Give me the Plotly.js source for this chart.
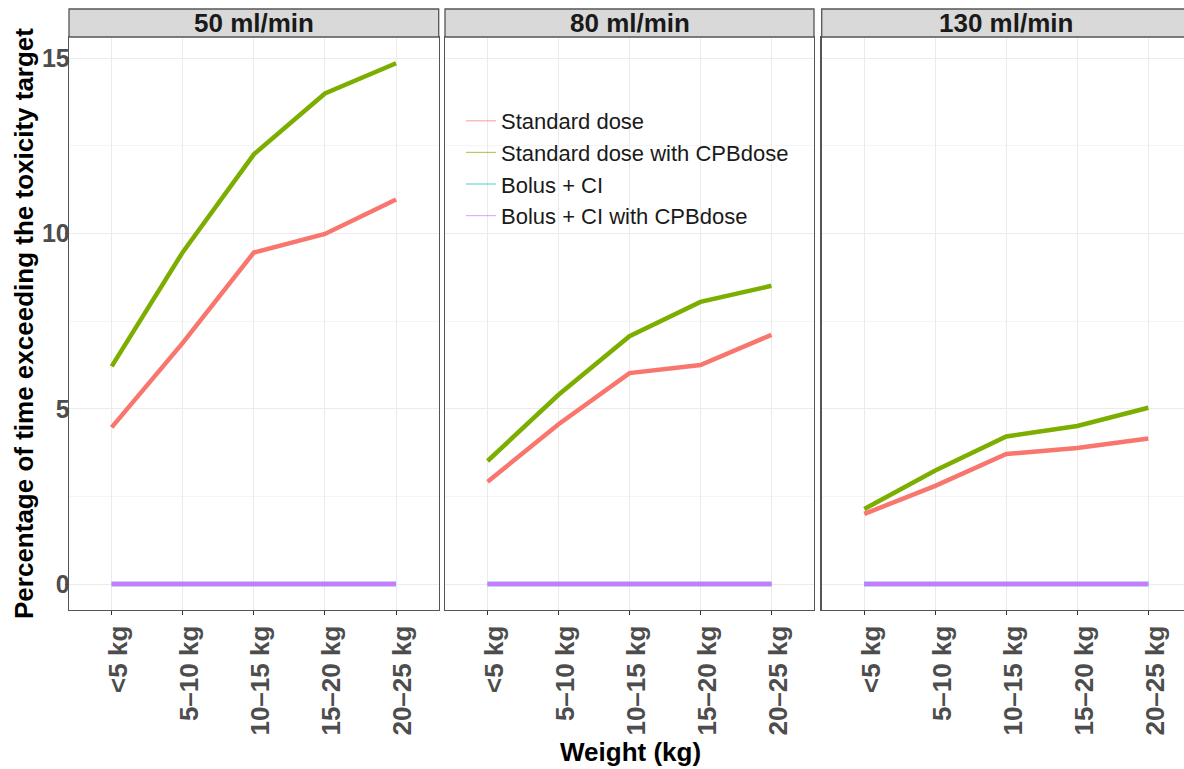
<!DOCTYPE html>
<html>
<head>
<meta charset="utf-8">
<script src="https://cdn.plot.ly/plotly-3.0.1.min.js"></script>
<style>html,body{margin:0;padding:0;background:#fff;}</style>
</head>
<body>
<div id="chart" style="width:1184px;height:769px;"></div>
<script>
const weights = ["<5 kg", "5–10 kg", "10–15 kg", "15–20 kg", "20–25 kg"];
const panelTitles = ["50 ml/min", "80 ml/min", "130 ml/min"];
const seriesNames = ["Standard dose", "Standard dose with CPBdose", "Bolus + CI", "Bolus + CI with CPBdose"];
const seriesColors = ["#F8766D", "#7CAE00", "#00BFC4", "#C77CFF"];

const std50 = [4.47, 6.88, 9.46, 9.99, 10.97];
const cpb50 = [6.21, 9.47, 12.26, 14.00, 14.86];
const bolus50 = [0, 0, 0, 0, 0];
const bolusCpb50 = [0, 0, 0, 0, 0];

const std80 = [2.92, 4.56, 6.02, 6.25, 7.11];
const cpb80 = [3.51, 5.40, 7.07, 8.05, 8.51];
const bolus80 = [0, 0, 0, 0, 0];
const bolusCpb80 = [0, 0, 0, 0, 0];

const std130 = [2.00, 2.80, 3.71, 3.88, 4.15];
const cpb130 = [2.14, 3.24, 4.21, 4.51, 5.03];
const bolus130 = [0, 0, 0, 0, 0];
const bolusCpb130 = [0, 0, 0, 0, 0];

const panelData = [
  [std50, cpb50, bolus50, bolusCpb50],
  [std80, cpb80, bolus80, bolusCpb80],
  [std130, cpb130, bolus130, bolusCpb130]
];

const W = 1184, H = 769;
const mL = 69, mR = 0, mT = 9, mB = 159;
const plotW = W - mL - mR, plotH = H - mT - mB;
const px2x = p => (p - mL) / plotW;
const px2y = p => (H - mB - p) / plotH;

const domains = [[px2x(69), px2x(438.7)], [px2x(445), px2x(814)], [px2x(821.7), 1]];
const stripBottom = px2y(37);
const xRanges = [[-0.6, 4.6], [-0.6, 4.6], [-0.6, 4.503]];
const stripCenters = [px2x(253.7), px2x(629.5), px2x(1006)];

const traces = [];
panelData.forEach((series, p) => {
  const xa = p === 0 ? 'x' : 'x' + (p + 1);
  const ya = p === 0 ? 'y' : 'y' + (p + 1);
  series.forEach((vals, s) => {
    traces.push({
      type: 'scatter', mode: 'lines', x: weights, y: vals,
      xaxis: xa, yaxis: ya, name: seriesNames[s], showlegend: false,
      line: {color: seriesColors[s], width: 4.5}, hoverinfo: 'x+y'
    });
  });
});
// legend keys (thin lines as in the reference legend)
seriesNames.forEach((n, s) => {
  traces.push({
    type: 'scatter', mode: 'lines', x: [null], y: [null], xaxis: 'x2', yaxis: 'y2',
    name: n, showlegend: true, line: {color: seriesColors[s], width: 1.2}, opacity: 0.6
  });
});

const font = "Liberation Sans, Arial, sans-serif";
const borderColor = '#555555';
const layout = {
  width: W, height: H,
  margin: {l: mL, r: mR, t: mT, b: mB, pad: 0},
  paper_bgcolor: '#ffffff', plot_bgcolor: '#ffffff',
  font: {family: font, color: '#4D4D4D'},
  showlegend: true,
  legend: {
    x: px2x(461), y: px2y(100), xanchor: 'left', yanchor: 'top',
    bgcolor: 'rgba(0,0,0,0)', font: {family: font, size: 22, color: '#1a1a1a'},
    tracegroupgap: 0
  },
  shapes: [], annotations: []
};

for (let p = 0; p < 3; p++) {
  const sfx = p === 0 ? '' : String(p + 1);
  layout['xaxis' + sfx] = {
    domain: domains[p], anchor: 'y' + sfx, type: 'category',
    categoryorder: 'array', categoryarray: weights,
    range: xRanges[p], showgrid: true, gridcolor: '#EBEBEB', gridwidth: 1,
    zeroline: false, showline: true, mirror: true, linecolor: borderColor, linewidth: 1.3,
    ticks: 'outside', ticklen: 4, tickcolor: '#333333', tickwidth: 1,
    tickangle: -90, ticklabelshift: 7,
    tickfont: {family: font, size: 26, color: '#4D4D4D', weight: 'bold'},
    fixedrange: true
  };
  layout['yaxis' + sfx] = {
    domain: [0, stripBottom], anchor: 'x' + sfx,
    range: [-0.742, 15.61], dtick: 5, tick0: 0,
    showgrid: true, gridcolor: '#EBEBEB', gridwidth: 1,
    minor: {dtick: 2.5, tick0: 0, showgrid: true, gridcolor: '#F2F2F2', gridwidth: 0.8},
    zeroline: false, showline: true, mirror: p < 2, linecolor: borderColor, linewidth: 1.3,
    ticks: p === 0 ? 'outside' : '', ticklen: 3, tickcolor: '#333333', tickwidth: 1,
    showticklabels: p === 0, ticklabelstandoff: -10,
    tickfont: {family: font, size: 25, color: '#4D4D4D', weight: 'bold'},
    fixedrange: true
  };
  if (p > 0) layout['yaxis' + sfx].matches = 'y';
  // strip
  layout.shapes.push({
    type: 'rect', xref: 'paper', yref: 'paper',
    x0: domains[p][0], x1: p === 2 ? 1.02 : domains[p][1],
    y0: stripBottom, y1: 1,
    fillcolor: '#D9D9D9', line: {color: borderColor, width: 1.3}, layer: 'above'
  });
  layout.annotations.push({
    xref: 'paper', yref: 'paper', x: stripCenters[p], y: (stripBottom + 1) / 2,
    xanchor: 'center', yanchor: 'middle', showarrow: false,
    text: panelTitles[p], font: {family: font, size: 26, color: '#1A1A1A', weight: 'bold'}
  });
}

layout.annotations.push({
  xref: 'paper', yref: 'paper', x: px2x(630), y: px2y(752),
  xanchor: 'center', yanchor: 'middle', showarrow: false,
  text: 'Weight (kg)', font: {family: font, size: 26, color: '#000000', weight: 'bold'}
});
layout.annotations.push({
  xref: 'paper', yref: 'paper', x: px2x(24), y: px2y(324),
  xanchor: 'center', yanchor: 'middle', showarrow: false, textangle: -90,
  text: 'Percentage of time exceeding the toxicity target',
  font: {family: font, size: 26, color: '#000000', weight: 'bold'}
});

Plotly.newPlot('chart', traces, layout, {displayModeBar: false, staticPlot: true});
</script>
</body>
</html>
